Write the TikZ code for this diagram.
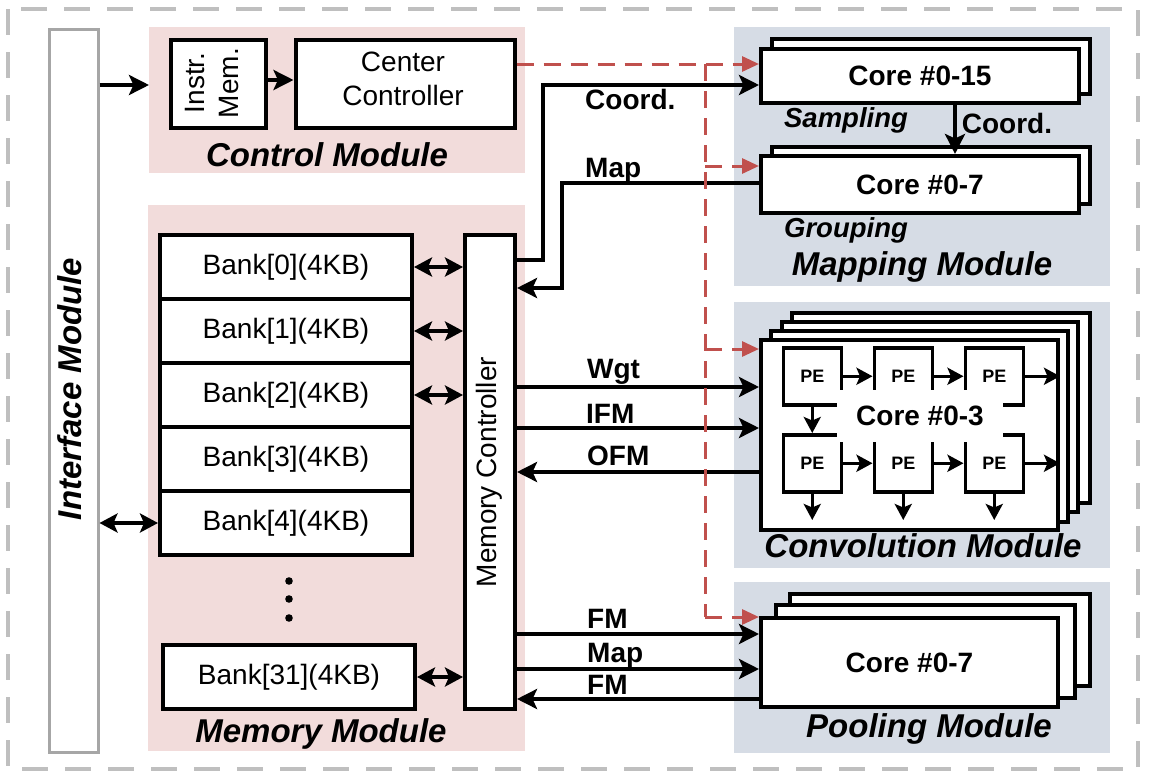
\documentclass[tikz,border=0pt]{standalone}
\usepackage{fontspec}
\setmainfont{Liberation Sans}
\usetikzlibrary{arrows.meta,calc}
\definecolor{pinkbg}{HTML}{F2DCDB}
\definecolor{bluebg}{HTML}{D6DCE5}
\definecolor{redc}{HTML}{C0504D}
\definecolor{ifgray}{HTML}{A6A6A6}
\definecolor{outgray}{HTML}{BFBFBF}
\newcommand\fReg{\fontsize{28}{34}\selectfont}
\newcommand\fBold{\fontsize{28}{32}\selectfont\bfseries}
\newcommand\fMod{\fontsize{33}{38}\selectfont\bfseries\itshape}
\newcommand\fSub{\fontsize{27.5}{32}\selectfont\bfseries\itshape}
\newcommand\fPE{\fontsize{18}{20}\selectfont\bfseries}
\begin{document}
\begin{tikzpicture}[x=1pt,y=-1pt,
 box/.style={draw=black,line width=4pt,fill=white,inner sep=0pt,anchor=north west},
 pe/.style={box,line width=3.5pt,minimum width=58pt,minimum height=57pt,font=\fPE},
 bgp/.style={fill=pinkbg,draw=none,inner sep=0pt,anchor=north west},
 bgb/.style={fill=bluebg,draw=none,inner sep=0pt,anchor=north west},
 arr/.style={line width=4pt,-{Stealth[length=20pt,width=20pt,inset=4.5pt]}},
 biarr/.style={line width=4pt,{Stealth[length=18pt,width=19pt,inset=4pt]}-{Stealth[length=18pt,width=19pt,inset=4pt]}},
 parr/.style={line width=3.5pt,-{Stealth[length=16pt,width=17pt,inset=3.5pt]}},
 rdash/.style={draw=redc,line width=3pt,dash pattern=on 17pt off 10pt},
 rarr/.style={rdash,-{Triangle[length=17pt,width=15pt]}},
 lab/.style={anchor=base west,inner sep=0pt,font=\fBold},
 mod/.style={anchor=base,inner sep=0pt,font=\fMod},
 sub/.style={anchor=base,inner sep=0pt,font=\fSub},
]
\useasboundingbox (0,0) rectangle (1149,779);
\draw[draw=outgray,line width=4pt,dash pattern=on 26pt off 17pt] (8,9) rectangle (1138,769);

% backgrounds
\node[bgp,minimum width=376pt,minimum height=146pt] (ctrlbg) at (149,27) {};
\node[bgp,minimum width=377pt,minimum height=546pt] (membg) at (148,205) {};
\node[bgb,minimum width=376pt,minimum height=259pt] (mapbg) at (734,27) {};
\node[bgb,minimum width=376pt,minimum height=266pt] (convbg) at (734,302) {};
\node[bgb,minimum width=376pt,minimum height=171pt] (poolbg) at (734,582) {};

% interface
\node[draw=ifgray,line width=3pt,fill=white,inner sep=0pt,anchor=north west,minimum width=49pt,minimum height=723pt] (iface) at (47.5,28) {};
\node[rotate=90,anchor=base,inner sep=0pt,font=\fMod] (ifacetxt) at (81,389) {Interface Module};

% control module
\node[box,minimum width=95pt,minimum height=88pt] (instr) at (169,38) {};
\node[rotate=90,align=center,font=\fReg,inner sep=0pt] (instrtxt) at (212,83) {Instr.\\Mem.};
\node[box,minimum width=219pt,minimum height=88pt] (cc) at (293.5,38) {};
\node[align=center,font=\fReg,inner sep=0pt] (cctxt) at (403,79) {Center\\Controller};
\node[mod] (ctrllab) at (327,166) {Control Module};

% memory module
\node[box,minimum width=252pt,minimum height=64pt,font=\fReg] (b0) at (158,233) {Bank[0](4KB)};
\node[box,minimum width=252pt,minimum height=64pt,font=\fReg] (b1) at (158,297) {Bank[1](4KB)};
\node[box,minimum width=252pt,minimum height=64pt,font=\fReg] (b2) at (158,361) {Bank[2](4KB)};
\node[box,minimum width=252pt,minimum height=64pt,font=\fReg] (b3) at (158,425) {Bank[3](4KB)};
\node[box,minimum width=252pt,minimum height=64pt,font=\fReg] (b4) at (158,489) {Bank[4](4KB)};
\node[box,minimum width=252pt,minimum height=64pt,font=\fReg] (b31) at (161,643) {Bank[31](4KB)};
\fill (289,581) circle (3.8pt) (289,599) circle (3.8pt) (289,618) circle (3.8pt);
\node[box,minimum width=50pt,minimum height=474pt] (mc) at (463,233) {};
\node[rotate=90,anchor=base,inner sep=0pt,font=\fReg] (mctxt) at (496,472) {Memory Controller};
\node[mod] (memlab) at (321,742) {Memory Module};

% mapping module
\node[box,minimum width=318pt,minimum height=55pt] (core15b) at (770,37) {};
\node[box,minimum width=318pt,minimum height=54pt,font=\fBold] (core15) at (759,47) {Core \#0-15};
\node[box,minimum width=318pt,minimum height=57pt] (core7b) at (770,145) {};
\node[box,minimum width=318pt,minimum height=57pt,font=\fBold] (core7) at (759,154) {Core \#0-7};
\node[sub] (samp) at (846,127) {Sampling};
\node[sub] (grp) at (846,237) {Grouping};
\node[lab,anchor=base] (coordv) at (1007,133) {Coord.};
\node[mod] (maplab) at (922,275) {Mapping Module};

% convolution module
\node[box,minimum width=298pt,minimum height=190pt] (conv3) at (790,311) {};
\node[box,minimum width=296pt,minimum height=190pt] (conv2) at (780,320) {};
\node[box,minimum width=297pt,minimum height=191pt] (conv1) at (769,329) {};
\node[box,minimum width=297pt,minimum height=190pt] (conv) at (759,338) {};
\node[pe] (p11) at (781.5,346) {PE};
\node[pe] (p12) at (872.5,346) {PE};
\node[pe] (p13) at (963.5,346) {PE};
\node[pe] (p21) at (781.5,433) {PE};
\node[pe] (p22) at (872.5,433) {PE};
\node[pe] (p23) at (963.5,433) {PE};
\node[fill=white,minimum width=166pt,minimum height=52pt,inner sep=0pt,font=\fBold] (core3) at (920,416) {Core \#0-3};
\node[mod] (convlab) at (923,557) {Convolution Module};

% pooling module
\node[box,minimum width=300pt,minimum height=92pt] (pool2) at (788,592) {};
\node[box,minimum width=299pt,minimum height=93pt] (pool1) at (774,603) {};
\node[box,minimum width=297pt,minimum height=89pt,font=\fBold] (pool) at (759,616) {Core \#0-7};
\node[mod] (poollab) at (929,737) {Pooling Module};

% helper coordinates
\coordinate (iA) at (100,85);
\coordinate (iB) at (270,80);
\coordinate (kA) at (543,260);
\coordinate (kB) at (543,85);
\coordinate (mA) at (562,183);
\coordinate (mB) at (562,288);
\coordinate (wY) at (600,387);
\coordinate (fY) at (600,428);
\coordinate (oY) at (600,472);
\coordinate (pF) at (600,634);
\coordinate (pM) at (600,669);
\coordinate (pB) at (600,699);
\coordinate (cX) at (955,120);
\coordinate (dEnd) at (900,520);

% black connectors
\draw[arr] (iface.east |- iA) -- (ctrlbg.west |- iA);
\draw[arr] (instr.east |- iB) -- (cc.west |- iB);
\draw[biarr] (b0.east) -- (b0.east -| mc.west);
\draw[biarr] (b1.east) -- (b1.east -| mc.west);
\draw[biarr] (b2.east) -- (b2.east -| mc.west);
\draw[biarr] (b31.east) -- (b31.east -| mc.west);
\draw[biarr] (b4.west -| iface.east) -- (b4.west);
\draw[arr] (mc.east |- kA) -- (kA) -- (kB) -- (core15.west |- kB);
\draw[arr] (core7.west |- mA) -- (mA) -- (mB) -- (mc.east |- mB);
\draw[arr] (core15.south -| cX) -- (core7.north -| cX);
\draw[arr] (mc.east |- wY) -- (conv.west |- wY);
\draw[arr] (mc.east |- fY) -- (conv.west |- fY);
\draw[arr] (conv.west |- oY) -- (mc.east |- oY);
\draw[arr] (mc.east |- pF) -- (pool.west |- pF);
\draw[arr] (mc.east |- pM) -- (pool.west |- pM);
\draw[arr] (pool.west |- pB) -- (mc.east |- pB);

% PE connectors
\draw[parr] (p11.east) -- (p12.west);
\draw[parr] (p12.east) -- (p13.west);
\draw[parr] (p13.east) -- (p13.east -| conv.east);
\draw[parr] (p21.east) -- (p22.west);
\draw[parr] (p22.east) -- (p23.west);
\draw[parr] (p23.east) -- (p23.east -| conv.east);
\draw[parr] (p11.south) -- (p21.north);
\draw[parr] (p21.south) -- (p21.south |- dEnd);
\draw[parr] (p22.south) -- (p22.south |- dEnd);
\draw[parr] (p23.south) -- (p23.south |- dEnd);

% connector labels
\node[lab] (lcoord) at (585,109) {Coord.};
\node[lab] (lmap) at (585,177) {Map};
\node[lab] (lwgt) at (587,378) {Wgt};
\node[lab] (lifm) at (586,423) {IFM};
\node[lab] (lofm) at (587,465) {OFM};
\node[lab] (lfm1) at (587,628) {FM};
\node[lab] (lmap2) at (587,662) {Map};
\node[lab] (lfm2) at (587,694) {FM};

% red dashed control lines
\coordinate (rtop) at (705,64);
\coordinate (rmap) at (705,166);
\coordinate (rconv) at (705,349);
\coordinate (rpool) at (705,617);
\draw[rarr] (cc.east |- rtop) -- (core15.west |- rtop);
\draw[rdash] (rtop) -- (rpool);
\draw[rarr] (rpool) -- (pool.west |- rpool);
\draw[rarr] (rmap) -- (core7.west |- rmap);
\draw[rarr] (rconv) -- (conv.west |- rconv);
\end{tikzpicture}
\end{document}
